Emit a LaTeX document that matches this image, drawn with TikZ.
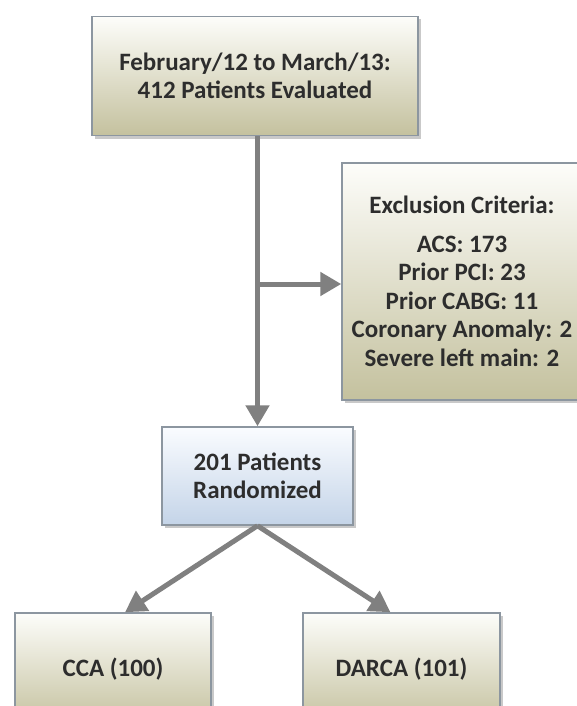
\documentclass[tikz,border=0pt]{standalone}
\usepackage{fontspec}
\setmainfont{Carlito}
\usetikzlibrary{shadows,arrows.meta}
\definecolor{olivebot}{RGB}{196,193,158}
\definecolor{olivetop}{RGB}{253,253,250}
\definecolor{bluebot}{RGB}{196,212,232}
\definecolor{bluetop}{RGB}{250,252,255}
\definecolor{edgecol}{RGB}{140,150,160}
\definecolor{txtcol}{RGB}{45,45,45}
\definecolor{arrcol}{RGB}{128,128,128}
\tikzset{
  box/.style={draw=edgecol, line width=1.5pt, rectangle, align=center,
    font=\fontsize{25}{28.5}\selectfont\bfseries, text=txtcol,
    drop shadow={shadow xshift=3pt, shadow yshift=-3pt, opacity=0.35, fill=black!60}},
  olivebox/.style={box, top color=olivetop, bottom color=olivebot},
  bluebox/.style={box, top color=bluetop, bottom color=bluebot},
  conn/.style={draw=arrcol, line width=5pt, -{Triangle[length=21pt,width=23pt]}}
}
\begin{document}
\begin{tikzpicture}[x=1pt,y=-1pt]
\fill[white] (0,0) rectangle (576,706);
\useasboundingbox (0,0) rectangle (576,706);
\node[olivebox, minimum width=326pt, minimum height=119pt] (top) at (255,76)
  {February/12 to March/13:\\412 Patients Evaluated};
\node[olivebox, minimum width=240pt, minimum height=237pt] (excl) at (462,281.5)
  {Exclusion Criteria:\\[10pt]ACS: 173\\Prior PCI: 23\\Prior CABG: 11\\Coronary Anomaly: 2\\Severe left main: 2};
\node[bluebox, minimum width=191pt, minimum height=98pt] (rand) at (257.5,476)
  {201 Patients\\Randomized};
\node[olivebox, minimum width=196pt, minimum height=112pt] (cca) at (113,669)
  {CCA (100)};
\node[olivebox, minimum width=197pt, minimum height=112pt] (darca) at (401.5,669)
  {DARCA (101)};
\coordinate (branch) at (rand.north |- 0,284);
\draw[conn] (top.south -| rand.north) -- (rand.north);
\draw[conn] (branch) -- (branch -| excl.west);
\draw[conn] (rand.south) -- ([xshift=12pt]cca.north);
\draw[conn] (rand.south) -- ([xshift=-11pt]darca.north);
\end{tikzpicture}
\end{document}
